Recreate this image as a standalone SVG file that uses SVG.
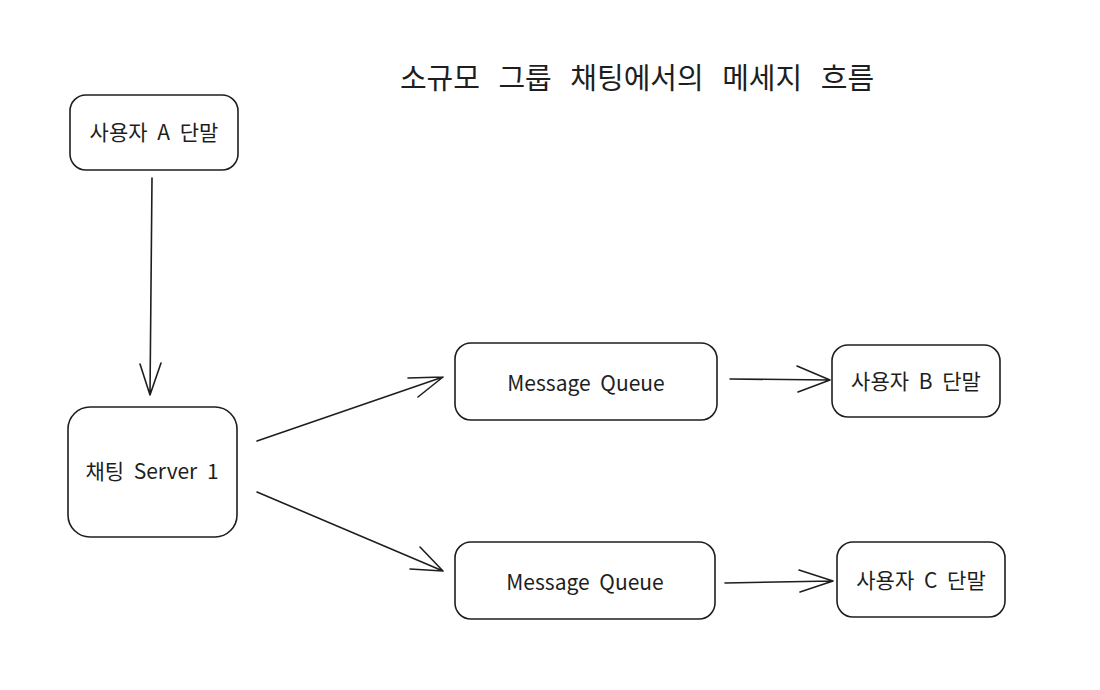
<svg xmlns="http://www.w3.org/2000/svg" width="1100" height="690" viewBox="0 0 1100 690">
<style>
.box{fill:#ffffff;stroke:#1e1e1e;stroke-width:1.6}
.lbl{font-family:"Noto Sans CJK KR","Liberation Sans",sans-serif;font-size:21px;fill:#1e1e1e;text-anchor:middle;dominant-baseline:central;word-spacing:5px}
.title{font-family:"Noto Sans CJK KR","Liberation Sans",sans-serif;font-size:29px;fill:#1e1e1e;text-anchor:middle;word-spacing:12px}
.edge{fill:none;stroke:#1e1e1e;stroke-width:1.6;stroke-linecap:round;stroke-linejoin:round}
</style>
<rect width="1100" height="690" fill="#ffffff"/>
<text class="title" x="637" y="89">소규모 그룹 채팅에서의 메세지 흐름</text>
<g id="userA"><rect class="box" x="70" y="95" width="168" height="75" rx="16"/><text class="lbl" x="154" y="131">사용자 A 단말</text></g>
<g id="server"><rect class="box" x="68" y="407" width="169" height="130" rx="22"/><text class="lbl" x="152" y="470">채팅 Server 1</text></g>
<g id="mq1"><rect class="box" x="455" y="343" width="262" height="77" rx="16"/><text class="lbl" x="586" y="382">Message Queue</text></g>
<g id="mq2"><rect class="box" x="455" y="542" width="260" height="77" rx="16"/><text class="lbl" x="585" y="581">Message Queue</text></g>
<g id="userB"><rect class="box" x="832" y="345" width="168" height="72" rx="16"/><text class="lbl" x="916" y="380">사용자 B 단말</text></g>
<g id="userC"><rect class="box" x="837" y="542" width="168" height="75" rx="16"/><text class="lbl" x="921" y="579">사용자 C 단말</text></g>
<g id="connectors">
<path class="edge" d="M152 178 L150 395 M140 364 L150 395 L161 363"/>
<path class="edge" d="M257 441 L443 377 M408 378 L443 377 L418 397"/>
<path class="edge" d="M257 492 L443 571 M420 547 L443 571 L410 569"/>
<path class="edge" d="M730 379 L830 380 M797 366 L830 380 L798 392"/>
<path class="edge" d="M725 583 L833 581 M799 570 L833 581 L800 592"/>
</g>
</svg>
